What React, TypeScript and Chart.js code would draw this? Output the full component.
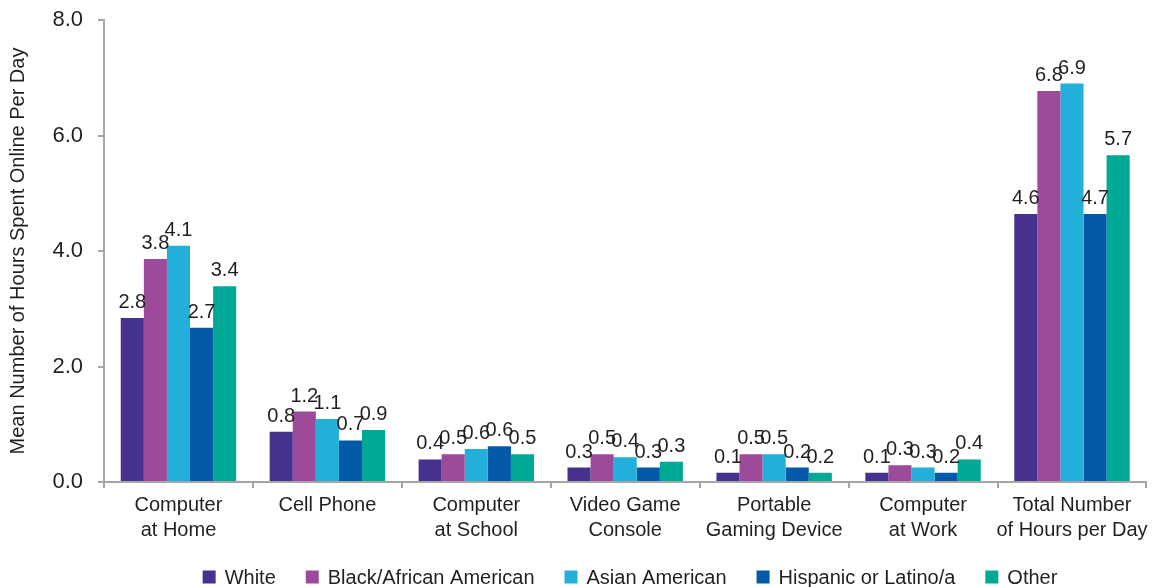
import React, { useEffect, useRef } from "react";
import { Chart, registerables } from "chart.js";

Chart.register(...registerables);

const categories: string[][] = [
  ["Computer", "at Home"],
  ["Cell Phone"],
  ["Computer", "at School"],
  ["Video Game", "Console"],
  ["Portable", "Gaming Device"],
  ["Computer", "at Work"],
  ["Total Number", "of Hours per Day"],
];

const seriesNames = ["White", "Black/African American", "Asian American", "Hispanic or Latino/a", "Other"];
const seriesColors = ["#46318f", "#9e4a9a", "#22afda", "#0459a8", "#00a896"];

const whiteValues = [2.84, 0.87, 0.39, 0.25, 0.16, 0.16, 4.64];
const blackValues = [3.86, 1.22, 0.48, 0.48, 0.48, 0.29, 6.77];
const asianValues = [4.09, 1.09, 0.57, 0.43, 0.48, 0.25, 6.9];
const hispanicValues = [2.67, 0.72, 0.62, 0.25, 0.25, 0.16, 4.64];
const otherValues = [3.39, 0.9, 0.48, 0.35, 0.16, 0.39, 5.66];

const whiteLabels = ["2.8", "0.8", "0.4", "0.3", "0.1", "0.1", "4.6"];
const blackLabels = ["3.8", "1.2", "0.5", "0.5", "0.5", "0.3", "6.8"];
const asianLabels = ["4.1", "1.1", "0.6", "0.4", "0.5", "0.3", "6.9"];
const hispanicLabels = ["2.7", "0.7", "0.6", "0.3", "0.2", "0.2", "4.7"];
const otherLabels = ["3.4", "0.9", "0.5", "0.3", "0.2", "0.4", "5.7"];

const yTicks = [0, 2, 4, 6, 8];
const yTitle = "Mean Number of Hours Spent Online Per Day";

const FONT = '"Liberation Sans", Arial, sans-serif';
const TEXT = "#231f20";
const AXIS = "#a6a6a6";

const valueLabelPlugin = {
  id: "valueLabels",
  afterDatasetsDraw(chart: any) {
    const ctx = chart.ctx;
    ctx.save();
    ctx.font = `20px ${FONT}`;
    ctx.fillStyle = TEXT;
    ctx.textAlign = "center";
    ctx.textBaseline = "alphabetic";
    chart.data.datasets.forEach((ds: any, i: number) => {
      const meta = chart.getDatasetMeta(i);
      meta.data.forEach((el: any, j: number) => {
        ctx.fillText(ds.valueLabels[j], el.x, el.y - 10);
      });
    });
    ctx.restore();
  },
};

const legendPlugin = {
  id: "customLegend",
  afterDraw(chart: any) {
    const ctx = chart.ctx;
    ctx.save();
    ctx.font = `20px ${FONT}`;
    const box = 13;
    const boxGap = 9;
    const itemGap = 30;
    const items = chart.data.datasets.map((ds: any) => ({
      label: ds.label,
      color: ds.backgroundColor,
      w: ctx.measureText(ds.label).width,
    }));
    const total =
      items.reduce((s: number, it: any) => s + box + boxGap + it.w, 0) + itemGap * (items.length - 1);
    let x = 630 - total / 2;
    const yc = 577;
    ctx.textBaseline = "middle";
    ctx.textAlign = "left";
    items.forEach((it: any) => {
      ctx.fillStyle = it.color;
      ctx.fillRect(x, yc - box / 2, box, box);
      ctx.fillStyle = TEXT;
      ctx.fillText(it.label, x + box + boxGap, yc + 1);
      x += box + boxGap + it.w + itemGap;
    });
    ctx.restore();
  },
};

export default function App() {
  const ref = useRef<HTMLCanvasElement | null>(null);

  useEffect(() => {
    if (!ref.current) return;
    const values = [whiteValues, blackValues, asianValues, hispanicValues, otherValues];
    const labels = [whiteLabels, blackLabels, asianLabels, hispanicLabels, otherLabels];
    const chart = new Chart(ref.current, {
      type: "bar",
      data: {
        labels: categories,
        datasets: seriesNames.map((name, i) => ({
          label: name,
          data: values[i],
          backgroundColor: seriesColors[i],
          borderWidth: 0,
          barPercentage: 1,
          categoryPercentage: 0.775,
          valueLabels: labels[i],
        })) as any,
      },
      options: {
        animation: false,
        responsive: true,
        maintainAspectRatio: false,
        layout: { padding: { top: 20, right: 6, left: 0, bottom: 0 } },
        plugins: {
          legend: { display: false },
          tooltip: { enabled: false },
        },
        scales: {
          x: {
            grid: {
              offset: true,
              display: true,
              drawOnChartArea: false,
              drawTicks: true,
              tickLength: 6,
              color: AXIS,
              lineWidth: 2,
            },
            border: { display: true, color: AXIS, width: 2 },
            ticks: {
              color: TEXT,
              font: { family: FONT, size: 20, lineHeight: 1.25 },
              padding: 5,
              maxRotation: 0,
              autoSkip: false,
            },
            afterFit: (scale: any) => {
              scale.height = 105;
            },
          },
          y: {
            min: 0,
            max: 8,
            afterBuildTicks: (scale: any) => {
              scale.ticks = yTicks.map((v) => ({ value: v }));
            },
            grid: {
              display: true,
              drawOnChartArea: false,
              drawTicks: true,
              tickLength: 6,
              color: AXIS,
              lineWidth: 2,
            },
            border: { display: true, color: AXIS, width: 2 },
            ticks: {
              color: TEXT,
              font: { family: FONT, size: 22 },
              padding: 15,
              callback: (v: any) => Number(v).toFixed(1),
            },
            title: {
              display: true,
              text: yTitle,
              color: TEXT,
              font: { family: FONT, size: 20 },
              padding: { top: 6, bottom: 0 },
            },
            afterFit: (scale: any) => {
              scale.width = 104;
              scale.paddingTop = 0;
              scale.paddingBottom = 0;
            },
          },
        },
      },
      plugins: [valueLabelPlugin, legendPlugin],
    });
    return () => chart.destroy();
  }, []);

  return (
    <div style={{ position: "absolute", left: 0, top: 0, width: 1153, height: 587 }}>
      <canvas ref={ref} />
    </div>
  );
}
